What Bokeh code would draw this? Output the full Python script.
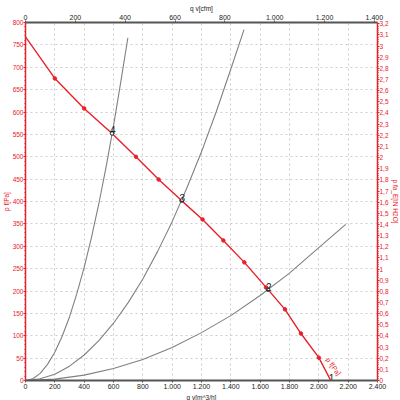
from bokeh.plotting import figure
from bokeh.models import LinearAxis, Range1d, CustomJSTickFormatter, FixedTicker, Title
from bokeh.core.properties import value
from bokeh.embed import file_html
from bokeh.resources import INLINE

# Fan curve (qv m3/h, pf Pa)
fan_qv = [0, 200, 400, 590, 753, 908, 1064, 1207, 1349, 1492, 1654, 1769, 1878, 2000, 2081]
fan_pf = [768, 675, 608, 552, 500, 449, 402, 360, 313, 264, 203, 159, 105, 51, 0]
mark_qv = [200, 400, 753, 908, 1207, 1349, 1492, 1640, 1769, 1878, 2000]
mark_pf = [675, 608, 500, 449, 360, 313, 264, 208, 159, 105, 51]

# System curves
sys1_qv = [0, 50, 100, 150, 200, 250, 300, 350, 400, 450, 500, 550, 600, 650, 698]
sys1_pf = [0, 4, 16, 36, 63, 99, 142, 194, 253, 320, 395, 478, 569, 668, 766]
sys3_qv = [0, 100, 200, 300, 400, 500, 600, 700, 800, 900, 1000, 1100, 1200, 1300, 1400, 1490]
sys3_pf = [0, 4, 14, 32, 57, 89, 128, 174, 227, 288, 355, 430, 511, 600, 696, 784]
sys2_qv = [0, 200, 400, 600, 800, 1000, 1200, 1400, 1600, 1800, 2000, 2183]
sys2_pf = [0, 3, 12, 27, 47, 74, 107, 145, 190, 240, 297, 349]

# Operating points
op_qv = [590, 1064, 1654, 2081]
op_pf = [552, 402, 203, 0]
op_lab = ["4", "3", "2", "1"]

x_ticks = list(range(0, 2401, 200))
cfm_ticks = list(range(0, 1401, 200))
pa_ticks = list(range(0, 801, 50))
inh2o_ticks = [i / 10 for i in range(0, 33)]

RED = "#e8202a"
FONT = "Liberation Sans"

p = figure(width=400, height=400, x_range=(0, 2400), y_range=(0, 800),
           output_backend="svg", toolbar_location=None,
           min_border_left=22, min_border_right=22, min_border_top=22, min_border_bottom=20,
           x_axis_location=None, y_axis_location=None)
p.outline_line_color = None
p.background_fill_color = "white"

p.extra_x_ranges = {"cfm": Range1d(0, 2400 * 0.588578)}
p.extra_y_ranges = {"inh2o": Range1d(0, 800 / 249.089)}

TH = """
const t = Math.round(tick);
if (t >= 1000) { return Math.floor(t/1000) + '.' + String(t % 1000).padStart(3, '0'); }
return String(t);
"""
dec_fmt = CustomJSTickFormatter(code="""
let s = (Math.round(tick*10)/10).toFixed(1).replace('.', ',');
if (s.endsWith(',0')) { s = s.slice(0, -2); }
return s;
""")

def style_axis(ax, line_color, lw, label_color, size="7px"):
    ax.axis_line_color = line_color
    ax.axis_line_width = lw
    ax.major_tick_line_color = line_color
    ax.minor_tick_line_color = line_color
    ax.major_label_text_color = label_color
    ax.major_label_text_font = FONT
    ax.major_label_text_font_size = size
    ax.major_label_standoff = 1

bottom = LinearAxis(ticker=FixedTicker(ticks=x_ticks), formatter=CustomJSTickFormatter(code=TH))
style_axis(bottom, "#555555", 2, "#222222")
bottom.major_tick_in = 0
bottom.major_tick_out = 2
bottom.minor_tick_out = 0
p.add_layout(bottom, "below")

top = LinearAxis(x_range_name="cfm", ticker=FixedTicker(ticks=cfm_ticks), formatter=CustomJSTickFormatter(code=TH))
style_axis(top, "#555555", 2, "#222222")
top.major_tick_in = 0
top.major_tick_out = 2
top.minor_tick_out = 0
p.add_layout(top, "above")

left = LinearAxis(ticker=FixedTicker(ticks=pa_ticks, minor_ticks=list(range(0, 801, 10))))
style_axis(left, RED, 1.5, RED, "6.5px")
left.major_tick_in = 0
left.major_tick_out = 2
left.minor_tick_in = 0
left.minor_tick_out = 1
left.major_label_standoff = 0
p.add_layout(left, "left")

right = LinearAxis(y_range_name="inh2o",
                   ticker=FixedTicker(ticks=inh2o_ticks, minor_ticks=[i / 50 for i in range(0, 161)]),
                   formatter=dec_fmt)
style_axis(right, RED, 1.5, RED, "6.5px")
right.major_tick_in = 0
right.major_tick_out = 2
right.minor_tick_in = 0
right.minor_tick_out = 1
right.major_label_standoff = 0
p.add_layout(right, "right")

p.xgrid.ticker = FixedTicker(ticks=x_ticks)
p.ygrid.ticker = FixedTicker(ticks=pa_ticks)
for g in (p.xgrid, p.ygrid):
    g.grid_line_color = "#cdcdcd"
    g.grid_line_dash = "2 3"
    g.grid_line_width = 1

# Axis titles as side-panel titles
def side_title(txt, color, side):
    t = Title(text=txt, align="center", text_font=FONT, text_font_size="6.5px",
              text_font_style="normal", text_color=color, standoff=0, offset=0)
    p.add_layout(t, side)

side_title("q v[cfm]", "#222222", "above")
side_title("q v[m^3/h]", "#222222", "below")
side_title("p f[Pa]", RED, "left")
side_title("p fa_E[IN H2O]", RED, "right")

# System curves
for qx, py in ((sys1_qv, sys1_pf), (sys3_qv, sys3_pf), (sys2_qv, sys2_pf)):
    p.line(qx, py, line_color="#808080", line_width=1.1)

# Fan curve
p.line(fan_qv, fan_pf, line_color=RED, line_width=1.4)
p.scatter(mark_qv, mark_pf, size=3.5, color=RED)

# Operating points
p.scatter(op_qv[:3], op_pf[:3], size=3.5, fill_color="white", line_color="#222222", line_width=1)
p.text(op_qv, op_pf, text=op_lab, text_font=value(FONT), text_font_size="10px",
       text_color="#222222", text_baseline="bottom", text_align="left", x_offset=-2, y_offset=1)

# Fan curve label
p.text([2040], [45], text=["p f[Pa]"], angle=-0.95, text_font=value(FONT), text_font_size="7px",
       text_color=RED, text_baseline="bottom", text_align="left")

open("out.html", "w").write(file_html(p, INLINE))
